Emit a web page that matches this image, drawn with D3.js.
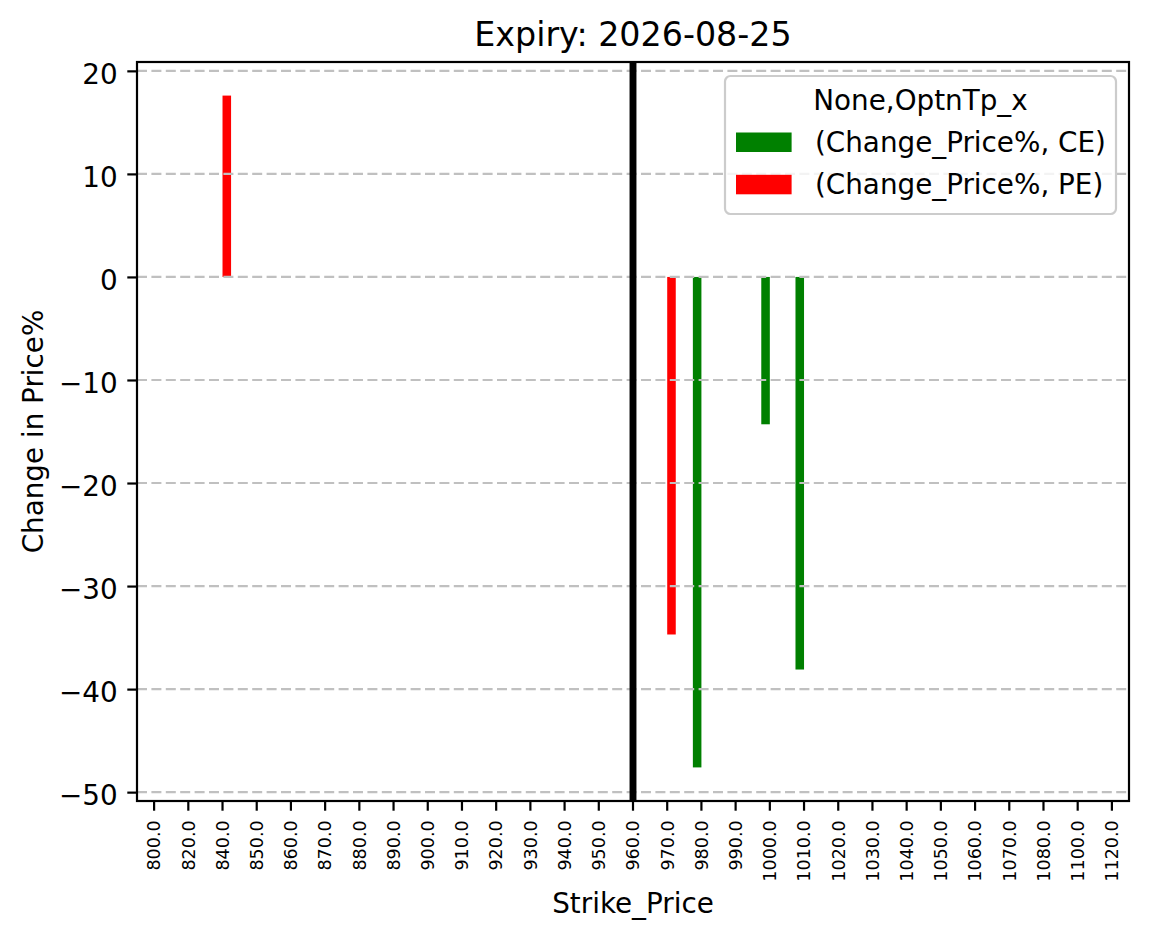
<!DOCTYPE html>
<html>
<head>
<meta charset="utf-8">
<script src="https://cdn.jsdelivr.net/npm/d3@7"></script>
<style>
  body { margin: 0; background: #fff; }
  svg { display: block; font-family: "DejaVu Sans", sans-serif; }
</style>
</head>
<body>
<svg width="1149" height="939"></svg>
<script>
// strikes on the x axis (category labels)
const strikes = ["800.0", "820.0", "840.0", "850.0", "860.0", "870.0", "880.0", "890.0", "900.0",
    "910.0", "920.0", "930.0", "940.0", "950.0", "960.0", "970.0", "980.0", "990.0", "1000.0",
    "1010.0", "1020.0", "1030.0", "1040.0", "1050.0", "1060.0", "1070.0", "1080.0", "1100.0", "1120.0"];

// Change_Price% per strike, null = no value
const ceValues = strikes.map(s => ({ "980.0": -47.6, "1000.0": -14.3, "1010.0": -38.1 })[s] ?? null);
const peValues = strikes.map(s => ({ "840.0": 17.6, "970.0": -34.7 })[s] ?? null);

const yTicks = [-50, -40, -30, -20, -10, 0, 10, 20];
const spotStrike = "960.0";
const seriesNames = ["(Change_Price%, CE)", "(Change_Price%, PE)"];
const seriesColors = ["#008000", "#ff0000"];

const font = "DejaVu Sans";

const svg = d3.select("svg"),
    margin = { top: 62, right: 20, bottom: 138, left: 137 },
    width = 992,
    height = 739;

const all = ceValues.concat(peValues).filter(v => v !== null);
const lo = d3.min(all), hi = d3.max(all), pad = (hi - lo) * 0.05;

const x = d3.scaleBand().domain(strikes).range([0, width]).padding(0);
const y = d3.scaleLinear().domain([lo - pad, hi + pad]).range([height, 0]);
const bw = x.bandwidth();

const g = svg.append("g").attr("transform", `translate(${margin.left}, ${margin.top})`);

// bars
const series = [ceValues, peValues];
series.forEach((vals, si) => {
    g.selectAll(null)
        .data(strikes.map((s, i) => ({ s, v: vals[i] })).filter(d => d.v !== null))
        .enter()
        .append("rect")
        .attr("x", d => x(d.s) + bw / 2 + (si - 1) * bw * 0.25)
        .attr("width", bw * 0.25)
        .attr("y", d => y(Math.max(0, d.v)))
        .attr("height", d => Math.abs(y(d.v) - y(0)))
        .attr("fill", seriesColors[si]);
});

// horizontal grid
g.selectAll(".grid")
    .data(yTicks)
    .enter()
    .append("line")
    .attr("x1", 0).attr("x2", width)
    .attr("y1", d => y(d)).attr("y2", d => y(d))
    .attr("stroke", "#c0c0c0")
    .attr("stroke-width", 2.2)
    .attr("stroke-dasharray", "10,4.4");

// spot line
g.append("line")
    .attr("x1", x(spotStrike) + bw / 2).attr("x2", x(spotStrike) + bw / 2)
    .attr("y1", 0).attr("y2", height)
    .attr("stroke", "#000")
    .attr("stroke-width", 6.9);

// axes
const xAxis = g.append("g")
    .attr("transform", `translate(0, ${height})`)
    .call(d3.axisBottom(x).tickSize(9.7).tickPadding(0))
    .attr("font-family", font);
xAxis.select(".domain").remove();
xAxis.selectAll(".tick line").attr("stroke-width", 2.2);
xAxis.selectAll(".tick text")
    .attr("font-size", 17.5)
    .attr("fill", "#000")
    .attr("text-anchor", "end")
    .attr("y", 0)
    .attr("dy", "0.36em")
    .attr("transform", "translate(0, 19.4) rotate(-90)");

const yAxis = g.append("g")
    .call(d3.axisLeft(y).tickValues(yTicks).tickSize(9.7).tickPadding(9.7))
    .attr("font-family", font);
yAxis.select(".domain").remove();
yAxis.selectAll(".tick line").attr("stroke-width", 2.2);
yAxis.selectAll(".tick text")
    .attr("font-size", 27.8)
    .attr("fill", "#000")
    .attr("dy", "0.44em");

// frame
g.append("rect")
    .attr("width", width).attr("height", height)
    .attr("fill", "none")
    .attr("stroke", "#000")
    .attr("stroke-width", 2.2);

// labels
svg.append("text")
    .attr("x", margin.left + width / 2).attr("y", 45.5)
    .attr("text-anchor", "middle")
    .attr("font-size", 33.3)
    .text("Expiry: 2026-08-25");

svg.append("text")
    .attr("x", margin.left + width / 2).attr("y", 912.5)
    .attr("text-anchor", "middle")
    .attr("font-size", 27.8)
    .text("Strike_Price");

svg.append("text")
    .attr("transform", `translate(42.5, ${margin.top + height / 2}) rotate(-90)`)
    .attr("text-anchor", "middle")
    .attr("font-size", 27.8)
    .text("Change in Price%");

// legend
const lg = svg.append("g").attr("transform", "translate(725, 76)");
lg.append("rect")
    .attr("width", 391).attr("height", 138)
    .attr("rx", 5.5)
    .attr("fill", "#fff").attr("fill-opacity", 0.8)
    .attr("stroke", "#cccccc").attr("stroke-width", 2.2);
lg.append("text")
    .attr("x", 195.5).attr("y", 34)
    .attr("text-anchor", "middle")
    .attr("font-size", 27.8)
    .text("None,OptnTp_x");
seriesNames.forEach((name, i) => {
    lg.append("rect")
        .attr("x", 11).attr("y", 56.5 + i * 42.3)
        .attr("width", 55.6).attr("height", 19.5)
        .attr("fill", seriesColors[i]);
    lg.append("text")
        .attr("x", 90).attr("y", 75.5 + i * 42.3)
        .attr("font-size", 27.8)
        .text(name);
});
</script>
</body>
</html>
